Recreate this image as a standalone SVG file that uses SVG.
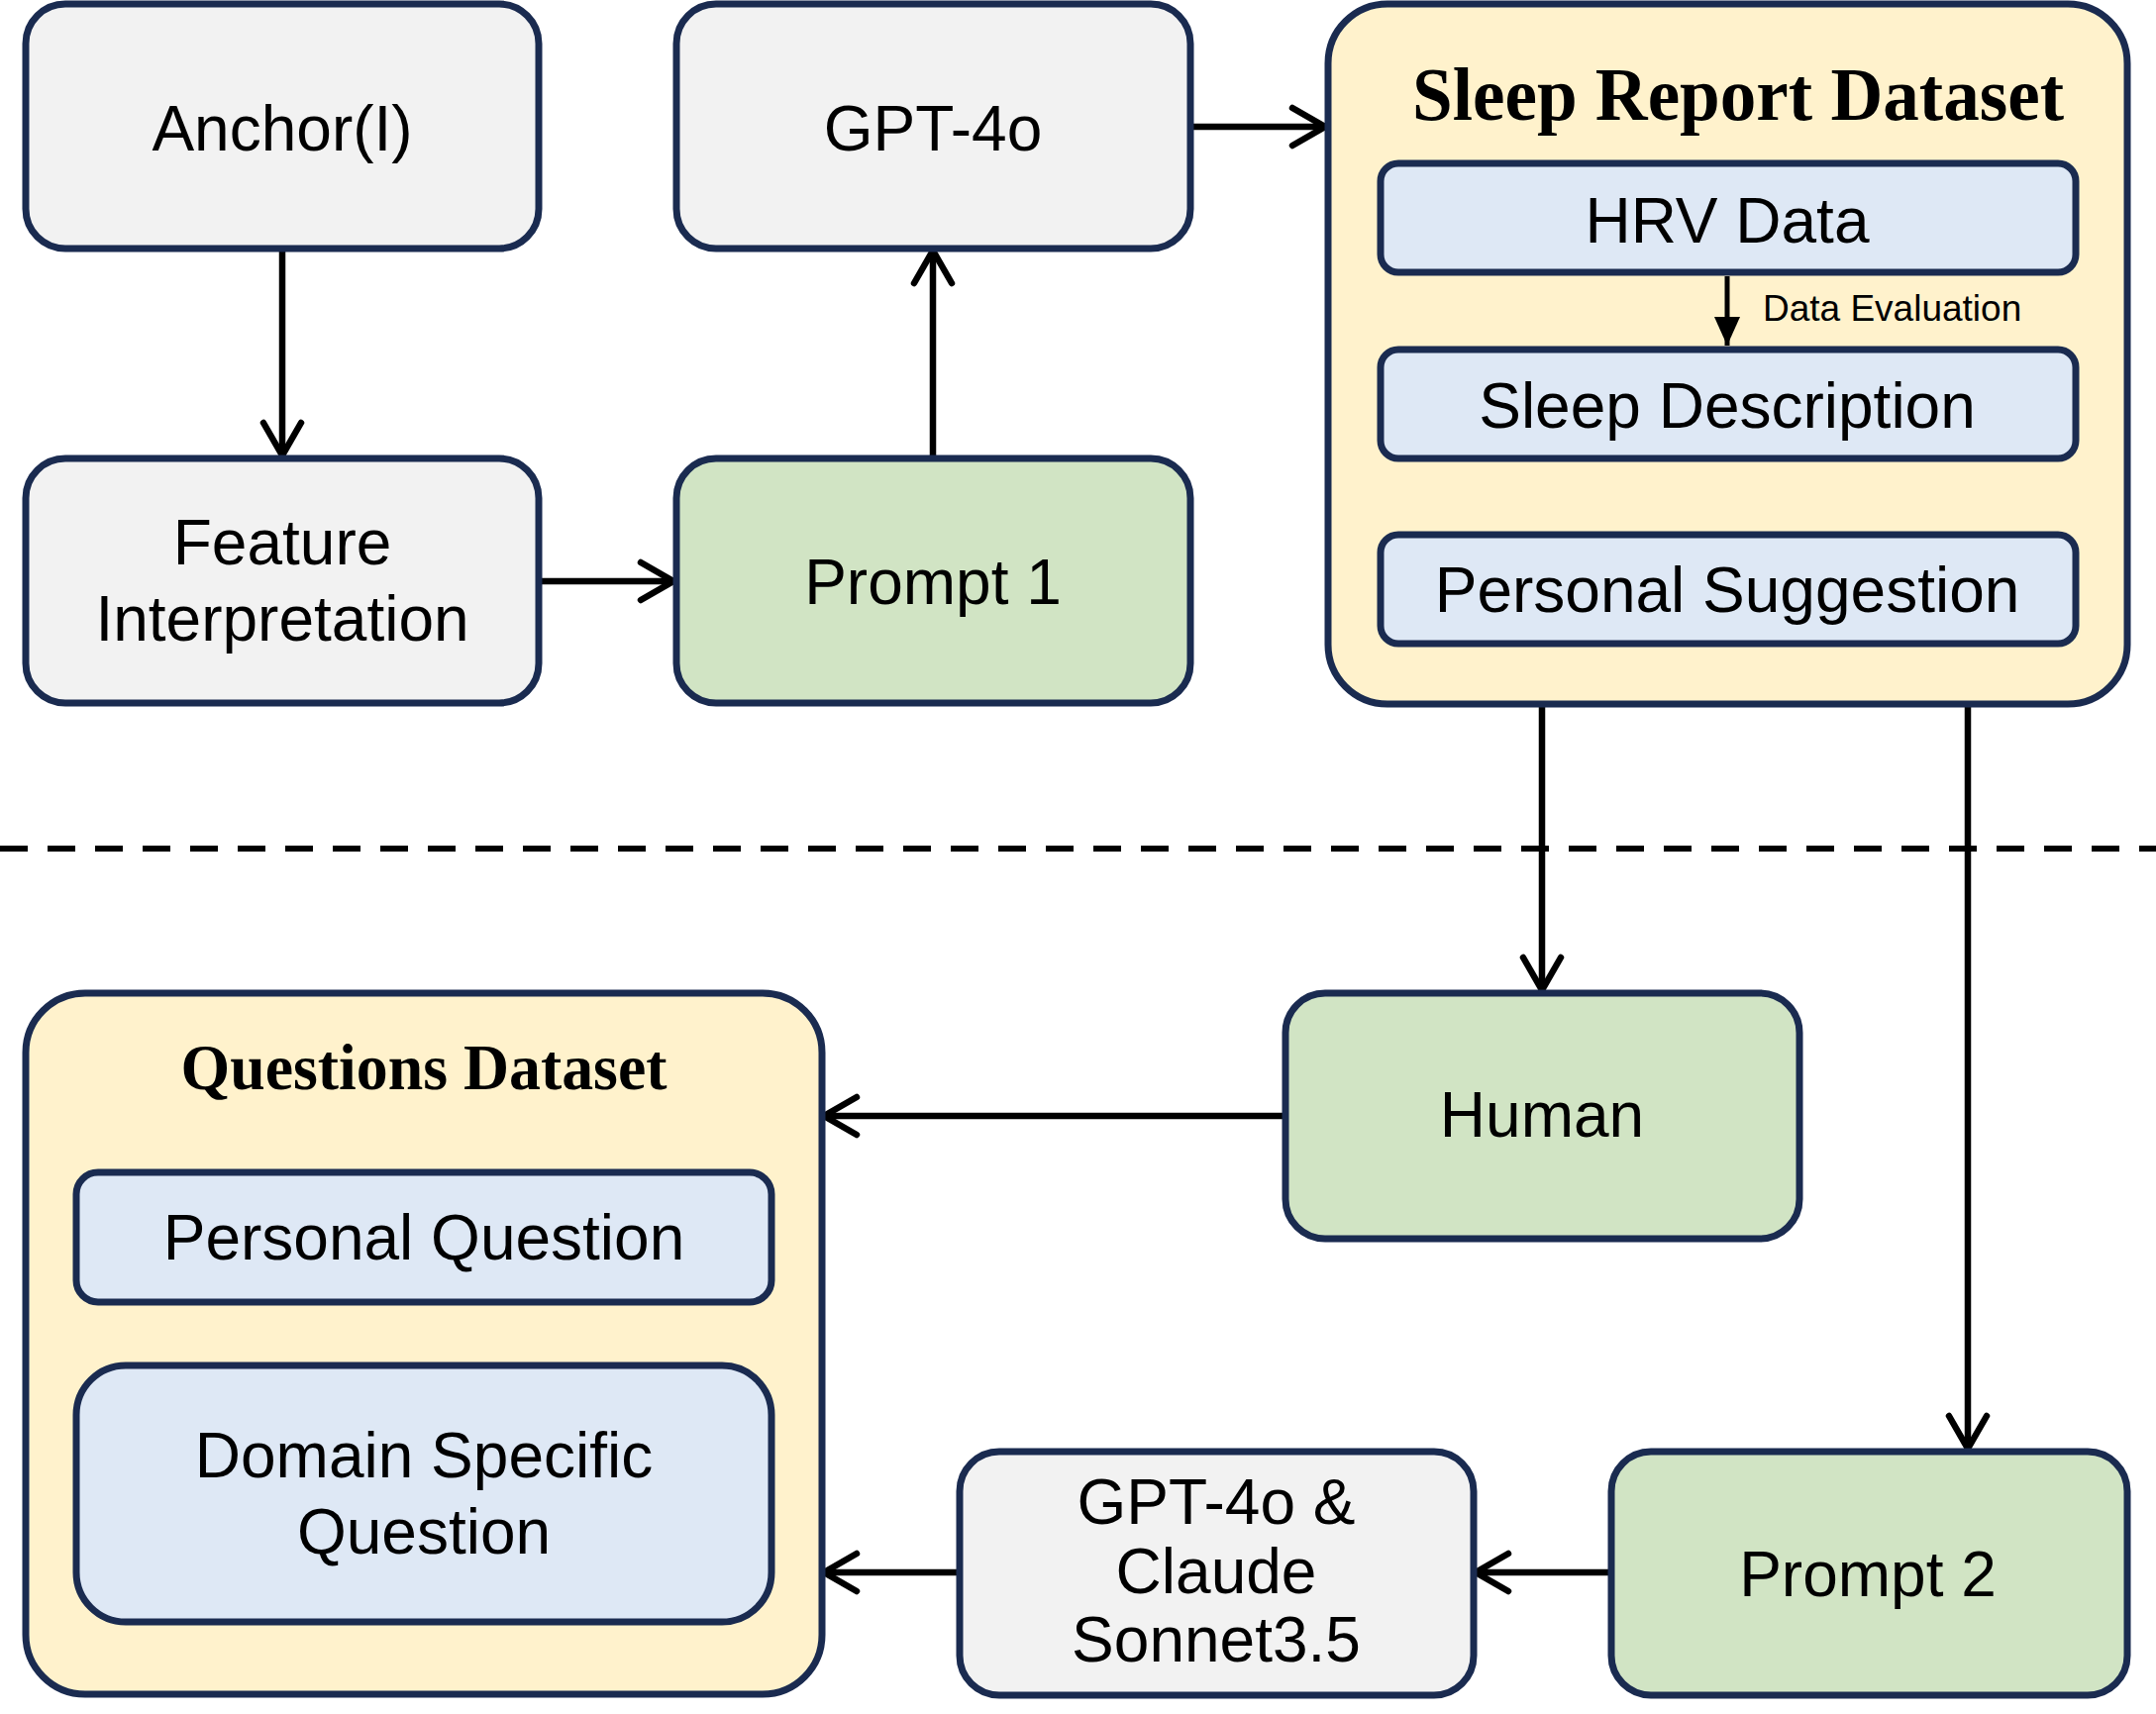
<svg xmlns="http://www.w3.org/2000/svg" width="2177" height="1731" viewBox="0 0 2177 1731">
<style>
.box{stroke:#1A2B50;stroke-width:7}
.gray{fill:#F2F2F2}
.green{fill:#D1E4C4}
.yellow{fill:#FFF2CC}
.blue{fill:#DEE8F5}
.t{font-family:"Liberation Sans",Arial,sans-serif;font-size:64px;fill:#000;text-anchor:middle}
.title{font-family:"Liberation Serif","Times New Roman",serif;font-weight:bold;fill:#000;text-anchor:middle}
.small{font-family:"Liberation Sans",Arial,sans-serif;font-size:37px;fill:#000}
.conn{stroke:#000;stroke-width:6.5;fill:none}
</style>
<defs>
<marker id="open" markerUnits="userSpaceOnUse" markerWidth="46" markerHeight="46" viewBox="0 0 46 46" refX="39" refY="23" orient="auto">
<path d="M6,4 L39,23 L6,42" fill="none" stroke="#000" stroke-width="6.5" stroke-linecap="round" stroke-linejoin="miter"/>
</marker>
<marker id="solid" markerUnits="userSpaceOnUse" markerWidth="30" markerHeight="28" viewBox="0 0 30 28" refX="29" refY="13" orient="auto">
<path d="M0,0 L29,13 L0,26 z" fill="#000"/>
</marker>
</defs>
<rect width="2177" height="1731" fill="#FFFFFF"/>

<g id="divider">
<line x1="0" y1="857" x2="2177" y2="857" stroke="#000" stroke-width="6" stroke-dasharray="28 20"/>
</g>

<g id="connectors">
<line class="conn" x1="285" y1="251" x2="285" y2="460" marker-end="url(#open)"/>
<line class="conn" x1="544" y1="587" x2="680" y2="587" marker-end="url(#open)"/>
<line class="conn" x1="942" y1="462" x2="942" y2="253" marker-end="url(#open)"/>
<line class="conn" x1="1202" y1="128" x2="1338" y2="128" marker-end="url(#open)"/>
<line class="conn" x1="1557" y1="711" x2="1557" y2="1000" marker-end="url(#open)"/>
<line class="conn" x1="1987" y1="711" x2="1987" y2="1463" marker-end="url(#open)"/>
<line class="conn" x1="1297" y1="1127" x2="832" y2="1127" marker-end="url(#open)"/>
<line class="conn" x1="968" y1="1588" x2="832" y2="1588" marker-end="url(#open)"/>
<line class="conn" x1="1626" y1="1588" x2="1490" y2="1588" marker-end="url(#open)"/>
</g>

<g id="anchor">
<rect class="box gray" x="26" y="4" width="518" height="247" rx="40"/>
<text class="t" x="285" y="152">Anchor(I)</text>
</g>

<g id="gpt4o">
<rect class="box gray" x="683" y="4" width="519" height="247" rx="40"/>
<text class="t" x="942" y="152">GPT-4o</text>
</g>

<g id="feature">
<rect class="box gray" x="26" y="463" width="518" height="247" rx="40"/>
<text class="t" x="285" y="570">Feature</text>
<text class="t" x="285" y="647">Interpretation</text>
</g>

<g id="prompt1">
<rect class="box green" x="683" y="463" width="519" height="247" rx="40"/>
<text class="t" x="942" y="610">Prompt 1</text>
</g>

<g id="sleep-report">
<rect class="box yellow" x="1341" y="4" width="807" height="707" rx="60"/>
<text class="title" x="1755" y="121" font-size="76" textLength="658" lengthAdjust="spacingAndGlyphs">Sleep Report Dataset</text>
<g id="hrv">
<rect class="box blue" x="1394" y="165" width="702" height="110" rx="18"/>
<text class="t" x="1744" y="245">HRV Data</text>
</g>
<g id="sleep-desc">
<rect class="box blue" x="1394" y="353" width="702" height="110" rx="18"/>
<text class="t" x="1744" y="432">Sleep Description</text>
</g>
<g id="personal-sugg">
<rect class="box blue" x="1394" y="540" width="702" height="110" rx="18"/>
<text class="t" x="1744" y="618">Personal Suggestion</text>
</g>
</g>

<g id="inner-connector">
<line x1="1744" y1="279" x2="1744" y2="349" stroke="#000" stroke-width="5" marker-end="url(#solid)"/>
<text class="small" x="1780" y="324">Data Evaluation</text>
</g>

<g id="human">
<rect class="box green" x="1298" y="1003" width="519" height="248" rx="40"/>
<text class="t" x="1557" y="1148">Human</text>
</g>

<g id="questions">
<rect class="box yellow" x="26" y="1003" width="804" height="708" rx="60"/>
<text class="title" x="428" y="1100" font-size="66" textLength="491" lengthAdjust="spacingAndGlyphs">Questions Dataset</text>
<g id="personal-q">
<rect class="box blue" x="77" y="1184" width="702" height="131" rx="22"/>
<text class="t" x="428" y="1272">Personal Question</text>
</g>
<g id="domain-q">
<rect class="box blue" x="77" y="1379" width="702" height="259" rx="50"/>
<text class="t" x="428" y="1492">Domain Specific</text>
<text class="t" x="428" y="1569">Question</text>
</g>
</g>

<g id="gpt-claude">
<rect class="box gray" x="969" y="1466" width="519" height="246" rx="40"/>
<text class="t" x="1228" y="1539">GPT-4o &amp;</text>
<text class="t" x="1228" y="1609">Claude</text>
<text class="t" x="1228" y="1678">Sonnet3.5</text>
</g>

<g id="prompt2">
<rect class="box green" x="1627" y="1466" width="521" height="246" rx="40"/>
<text class="t" x="1886" y="1612">Prompt 2</text>
</g>
</svg>
